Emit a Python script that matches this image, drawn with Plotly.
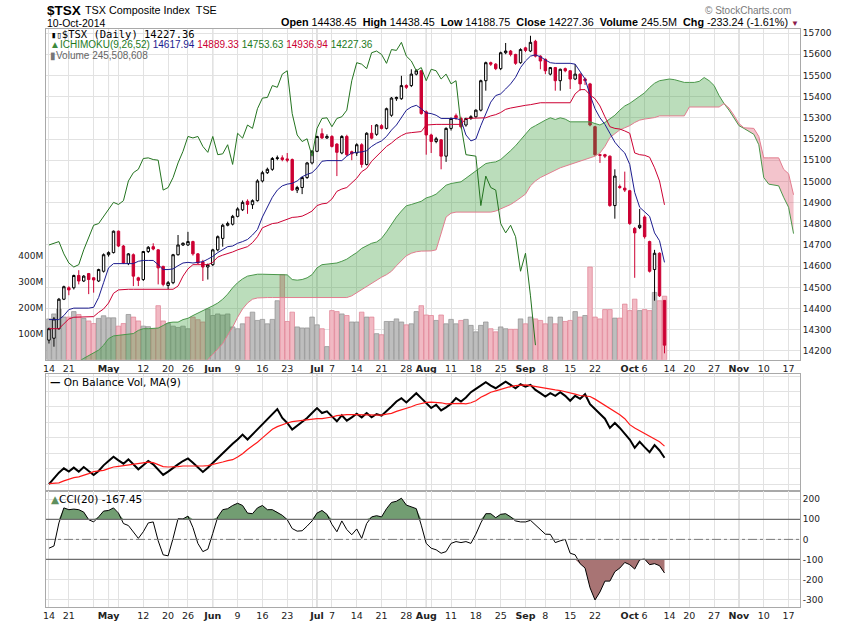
import numpy as np
import pandas as pd
import plotly.graph_objects as go

# trading days (TSX holidays removed), running past the last bar for the cloud projection
holidays = ["2014-04-18", "2014-05-19", "2014-07-01", "2014-08-04", "2014-09-01", "2014-10-13"]
dates = [d.strftime("%Y-%m-%d") for d in pd.bdate_range("2014-04-14", "2014-11-21")
         if d.strftime("%Y-%m-%d") not in holidays]

opens = [14251, 14260, 14305, 14444, 14498, 14498, 14556, 14530, 14565, 14545,
         14530, 14576, 14654, 14664, 14765, 14695, 14612, 14654, 14545, 14537,
         14669, 14692, 14677, 14599, 14509, 14522, 14654, 14700, 14700, 14716,
         14658, 14620, 14596, 14607, 14677, 14731, 14793, 14798, 14835, 14866,
         14906, 14890, 14909, 15002, 15041, 15057, 15108, 15111, 15106, 15103,
         14959, 14971, 15018, 15087, 15142, 15225, 15205, 15212, 15176, 15134,
         15212, 15140, 15134, 15173, 15080, 15227, 15222, 15263, 15250, 15312,
         15390, 15390, 15452, 15452, 15506, 15522, 15328, 15219, 15188, 15196,
         15119, 15250, 15310, 15297, 15266, 15297, 15305, 15336, 15475, 15560,
         15553, 15532, 15607, 15615, 15599, 15560, 15630, 15615, 15661, 15591,
         15576, 15506, 15537, 15475, 15532, 15522, 15483, 15506, 15483, 15460,
         15258, 15126, 15126, 15119, 14886, 14976, 14968, 14956, 14778, 14782,
         14832, 14716, 14584, 14661, 14438.45]
highs = [14310, 14360, 14450, 14508, 14505, 14560, 14581, 14558, 14568, 14548,
         14588, 14660, 14670, 14768, 14768, 14700, 14662, 14660, 14550, 14672,
         14695, 14708, 14680, 14602, 14530, 14658, 14747, 14712, 14762, 14720,
         14662, 14630, 14612, 14682, 14745, 14800, 14810, 14842, 14878, 14910,
         14915, 14915, 15010, 15050, 15065, 15115, 15122, 15123, 15134, 15108,
         14979, 15022, 15092, 15148, 15215, 15250, 15222, 15218, 15180, 15218,
         15220, 15145, 15180, 15180, 15232, 15266, 15270, 15270, 15348, 15398,
         15400, 15498, 15458, 15529, 15529, 15525, 15335, 15225, 15210, 15200,
         15255, 15302, 15320, 15305, 15300, 15312, 15340, 15480, 15565, 15565,
         15558, 15612, 15653, 15620, 15602, 15628, 15635, 15687, 15668, 15595,
         15580, 15540, 15540, 15532, 15537, 15525, 15553, 15510, 15490, 15465,
         15262, 15130, 15130, 15122, 15057, 14985, 15046, 14960, 14785, 14870,
         14840, 14720, 14677, 14665, 14438.45]
lows = [14235, 14220, 14300, 14440, 14463, 14490, 14514, 14525, 14468, 14475,
        14525, 14570, 14645, 14660, 14690, 14610, 14605, 14506, 14506, 14530,
        14662, 14675, 14514, 14505, 14491, 14515, 14650, 14695, 14695, 14650,
        14610, 14530, 14537, 14600, 14670, 14692, 14788, 14792, 14830, 14860,
        14847, 14870, 14905, 14995, 15035, 15050, 15100, 15095, 15090, 14955,
        14945, 14940, 15012, 15080, 15138, 15200, 15200, 15160, 15025, 15128,
        15120, 15100, 15120, 15065, 15075, 15198, 15215, 15245, 15245, 15305,
        15380, 15385, 15436, 15445, 15500, 15315, 15126, 15134, 15180, 15057,
        15092, 15240, 15290, 15250, 15258, 15290, 15300, 15330, 15428, 15545,
        15525, 15525, 15600, 15590, 15550, 15555, 15610, 15610, 15585, 15529,
        15506, 15500, 15428, 15428, 15515, 15436, 15478, 15428, 15455, 15260,
        15120, 15087, 15110, 14880, 14824, 14965, 14950, 14795, 14545, 14775,
        14730, 14570, 14437, 14455, 14188.75]
closes = [14305, 14351, 14444, 14503, 14488, 14556, 14530, 14553, 14537, 14535,
          14584, 14654, 14664, 14765, 14695, 14615, 14658, 14553, 14533, 14669,
          14689, 14681, 14592, 14514, 14522, 14654, 14700, 14708, 14716, 14658,
          14615, 14596, 14607, 14677, 14739, 14793, 14801, 14835, 14870, 14901,
          14891, 14909, 15002, 15041, 15057, 15108, 15111, 15103, 15100, 14959,
          14971, 15018, 15087, 15142, 15212, 15205, 15212, 15165, 15137, 15212,
          15126, 15130, 15173, 15080, 15227, 15204, 15266, 15250, 15343, 15393,
          15396, 15452, 15444, 15506, 15522, 15320, 15219, 15188, 15201, 15119,
          15250, 15297, 15300, 15258, 15297, 15305, 15336, 15475, 15560, 15553,
          15532, 15607, 15615, 15599, 15557, 15622, 15618, 15656, 15591, 15568,
          15522, 15537, 15475, 15529, 15522, 15483, 15506, 15460, 15475, 15266,
          15126, 15123, 15119, 14886, 15025, 14971, 14959, 14801, 14757, 14793,
          14739, 14576, 14661, 14460, 14227.36]
# volume, millions of shares
volume = [158, 177, 196, 165, 165, 186, 175, 160, 150, 140,
          160, 170, 162, 162, 130, 140, 175, 165, 150, 130,
          128, 120, 209, 150, 140, 130, 125, 130, 120, 165,
          155, 146, 196, 171, 177, 173, 177, 127, 120, 139,
          165, 184, 152, 156, 139, 156, 228, 329, 148, 184,
          127, 123, 123, 165, 135, 120, 51, 190, 186, 177,
          171, 146, 146, 184, 165, 165, 101, 97, 148, 148,
          158, 146, 135, 139, 186, 209, 173, 171, 152, 173,
          139, 156, 139, 152, 156, 133, 108, 133, 146, 120,
          108, 127, 120, 118, 118, 158, 139, 165, 158, 152,
          139, 165, 139, 165, 148, 152, 186, 165, 171, 358,
          165, 158, 194, 194, 161, 161, 215, 190, 234, 190,
          194, 190, 260, 228, 245.5]

tenkan = [14348, 14348, 14348, 14367, 14395, 14402, 14402, 14402, 14402, 14406,
          14452, 14522, 14592, 14612, 14612, 14612, 14612, 14612, 14623, 14627,
          14627, 14627, 14607, 14584, 14584, 14587, 14602, 14615, 14618, 14615,
          14618, 14621, 14633, 14646, 14664, 14680, 14692, 14695, 14708, 14716,
          14726, 14747, 14773, 14832, 14881, 14925, 14959, 14979, 14987, 14991,
          15002, 15022, 15033, 15041, 15064, 15095, 15098, 15098, 15098, 15098,
          15119, 15134, 15137, 15139, 15145, 15165, 15180, 15191, 15212, 15242,
          15266, 15300, 15336, 15351, 15359, 15343, 15323, 15320, 15312, 15297,
          15297, 15297, 15297, 15289, 15219, 15191, 15200, 15263, 15315, 15374,
          15405, 15413, 15436, 15460, 15491, 15537, 15568, 15591, 15597, 15588,
          15573, 15560, 15557, 15557, 15557, 15557, 15553, 15517, 15483, 15408,
          15343, 15300, 15269, 15227, 15185, 15157, 15134, 15080, 14948, 14878,
          14855, 14835, 14757, 14720, 14617.94]
kijun = [14305, 14305, 14305, 14328, 14351, 14359, 14359, 14359, 14359, 14362,
         14382, 14398, 14426, 14472, 14488, 14491, 14491, 14491, 14491, 14491,
         14491, 14491, 14491, 14491, 14491, 14491, 14506, 14553, 14587, 14607,
         14607, 14607, 14607, 14618, 14643, 14652, 14658, 14667, 14677, 14683,
         14692, 14711, 14739, 14781, 14792, 14801, 14804, 14813, 14824, 14830,
         14832, 14836, 14847, 14860, 14886, 14894, 14897, 14917, 14953, 14964,
         14971, 14995, 15015, 15046, 15061, 15095, 15119, 15142, 15165, 15181,
         15201, 15216, 15227, 15230, 15233, 15235, 15266, 15269, 15269, 15269,
         15269, 15269, 15269, 15269, 15297, 15297, 15297, 15297, 15300, 15309,
         15315, 15325, 15340, 15346, 15351, 15354, 15359, 15362, 15367, 15371,
         15371, 15371, 15371, 15371, 15371, 15371, 15413, 15433, 15433, 15408,
         15390, 15356, 15305, 15258, 15250, 15247, 15238, 15227, 15134, 15126,
         15123, 15114, 15064, 15002, 14889.33]
span_a = [14120, 14125, 14130, 14135, 14140, 14145, 14150, 14165, 14178, 14193,
          14204, 14227, 14258, 14271, 14274, 14274, 14277, 14282, 14297, 14305,
          14305, 14305, 14308, 14320, 14333, 14336, 14336, 14348, 14354, 14367,
          14378, 14390, 14401, 14413, 14426, 14444, 14468, 14498, 14522, 14540,
          14553, 14559, 14562, 14562, 14562, 14562, 14562, 14562, 14559, 14537,
          14534, 14537, 14545, 14560, 14592, 14607, 14610, 14612, 14615, 14623,
          14633, 14649, 14664, 14684, 14698, 14708, 14714, 14731, 14762, 14798,
          14832, 14860, 14885, 14891, 14898, 14906, 14922, 14929, 14940, 14959,
          14982, 14990, 14993, 14998, 15015, 15033, 15052, 15067, 15084, 15089,
          15092, 15103, 15123, 15145, 15168, 15196, 15227, 15250, 15263, 15278,
          15289, 15300, 15292, 15300, 15294, 15281, 15281, 15281, 15281, 15281,
          15273, 15266, 15278, 15297, 15312, 15336, 15356, 15368, 15384, 15398,
          15418, 15443, 15463, 15475, 15478, 15483, 15480, 15475, 15467, 15467,
          15467, 15472, 15490, 15475, 15452, 15405, 15367, 15336, 15297, 15263,
          15250, 15235, 15222, 15173, 15018, 14987, 14984, 14979, 14925, 14878,
          14753.63]
span_b = [14080, 14080, 14080, 14080, 14080, 14080, 14080, 14080, 14080, 14080,
          14080, 14090, 14090, 14090, 14090, 14090, 14090, 14090, 14090, 14090,
          14090, 14100, 14100, 14100, 14100, 14100, 14100, 14100, 14100, 14110,
          14120, 14135, 14158, 14184, 14209, 14235, 14274, 14312, 14359, 14398,
          14426, 14444, 14450, 14452, 14452, 14452, 14452, 14452, 14452, 14452,
          14452, 14452, 14452, 14452, 14452, 14452, 14452, 14452, 14452, 14452,
          14452, 14460, 14475, 14491, 14506, 14522, 14534, 14548, 14560, 14576,
          14602, 14627, 14649, 14661, 14668, 14671, 14672, 14672, 14677, 14754,
          14832, 14850, 14855, 14855, 14855, 14855, 14855, 14855, 14855, 14855,
          14860, 14870, 14878, 14891, 14906, 14925, 14940, 14979, 15002, 15018,
          15030, 15041, 15052, 15064, 15072, 15080, 15087, 15098, 15105, 15111,
          15119, 15134, 15165, 15207, 15227, 15243, 15253, 15263, 15278, 15289,
          15294, 15297, 15301, 15309, 15309, 15309, 15309, 15309, 15309, 15351,
          15351, 15351, 15351, 15351, 15351, 15351, 15367, 15346, 15312, 15273,
          15253, 15253, 15250, 15212, 15111, 15111, 15111, 15111, 15057, 15036,
          14936.94]

obv = [1000, 1180, 1350, 1480, 1380, 1500, 1380, 1520, 1400, 1280,
       1400, 1570, 1700, 1830, 1720, 1620, 1750, 1600, 1450, 1570,
       1700, 1600, 1450, 1280, 1380, 1500, 1600, 1700, 1780, 1650,
       1500, 1370, 1500, 1650, 1800, 1950, 2100, 2220, 2350, 2500,
       2350, 2500, 2680, 2820, 2950, 3100, 3270, 3000, 2850, 2650,
       2770, 2900, 3000, 3150, 3300, 3150, 3200, 3050, 2900, 3080,
       2920, 3020, 3130, 3020, 3150, 3020, 3120, 3070, 3200, 3350,
       3500, 3600, 3470, 3600, 3750, 3600, 3450, 3300, 3400, 3230,
       3320, 3430, 3600, 3500, 3620, 3780, 3880, 3980, 4080, 3980,
       3900, 4000, 4100, 4000, 3900, 4020, 3950, 4000, 3850, 3750,
       3650, 3750, 3670, 3780, 3670, 3520, 3670, 3580, 3720, 3420,
       3280, 3130, 2980, 2700, 2850, 2700, 2530, 2350, 2100, 2280,
       2120, 1970, 2180, 2020, 1800]
obv_ma = [1020, 1020, 1040, 1100, 1160, 1200, 1220, 1260, 1320, 1380,
          1400, 1420, 1470, 1520, 1540, 1560, 1580, 1610, 1630, 1640,
          1670, 1650, 1600, 1530, 1520, 1520, 1530, 1550, 1550, 1530,
          1540, 1550, 1560, 1590, 1630, 1670, 1710, 1740, 1820, 1920,
          2050, 2150, 2270, 2400, 2520, 2660, 2740, 2800, 2850, 2890,
          2910, 2930, 2950, 2970, 2980, 2980, 3000, 3030, 3070, 3090,
          3100, 3100, 3100, 3090, 3100, 3090, 3080, 3090, 3120, 3140,
          3200, 3240, 3280, 3340, 3400, 3440, 3470, 3480, 3480, 3460,
          3430, 3440, 3450, 3440, 3430, 3460, 3520, 3630, 3700, 3780,
          3820, 3870, 3920, 3950, 3980, 4000, 4000, 3980, 3950, 3920,
          3900, 3880, 3850, 3830, 3800, 3750, 3720, 3680, 3670, 3650,
          3570, 3480, 3380, 3300, 3200, 3100, 2980, 2800, 2700, 2620,
          2530, 2450, 2370, 2280, 2150]
cci = [-44, -33, 82, 157, 148, 151, 148, 136, 98, 87,
       112, 141, 144, 157, 131, 79, 69, 38, 5, 38,
       82, 87, -7, -77, -82, 5, 103, 102, 116, 59,
       -20, -61, -49, 30, 112, 148, 153, 169, 180, 169,
       131, 128, 157, 169, 148, 148, 136, 120, 98, 54,
       41, 43, 66, 92, 131, 144, 125, 75, 38, 92,
       49, 23, 52, 5, 79, 112, 118, 112, 153, 184,
       190, 205, 171, 161, 153, 71, -20, -44, -52, -69,
       -61, -20, -11, -16, -11, -20, 26, 82, 128, 128,
       108, 125, 128, 112, 92, 87, 87, 95, 71, 49,
       26, 25, -16, -7, 0, -69, -77, -121, -143, -241,
       -302, -262, -208, -208, -161, -143, -115, -126, -148, -102,
       -98, -126, -121, -131, -167.45]

tick_dates = ["2014-04-14", "2014-04-21", "2014-04-28", "2014-05-01", "2014-05-05", "2014-05-12",
              "2014-05-20", "2014-05-26", "2014-06-02", "2014-06-09", "2014-06-16", "2014-06-23",
              "2014-06-30", "2014-07-02", "2014-07-07", "2014-07-14", "2014-07-21", "2014-07-28",
              "2014-08-01", "2014-08-05", "2014-08-11", "2014-08-18", "2014-08-25", "2014-09-02",
              "2014-09-08", "2014-09-15", "2014-09-22", "2014-09-29", "2014-10-01", "2014-10-06",
              "2014-10-14", "2014-10-20", "2014-10-27", "2014-11-03", "2014-11-10", "2014-11-17"]
tick_text = ["14", "21", "", "<b>May</b>", "", "12", "20", "26", "<b>Jun</b>", "9", "16", "23",
             "", "<b>Jul</b>", "7", "14", "21", "28", "<b>Aug</b>", "", "11", "18", "25", "<b>Sep</b>",
             "8", "15", "22", "", "<b>Oct</b>", "6", "14", "20", "27", "<b>Nov</b>", "10", "17"]
month_dates = ["2014-05-01", "2014-06-02", "2014-07-02", "2014-08-01", "2014-09-02", "2014-10-01", "2014-11-03"]

n = len(closes)
lag = 26
RED = "#cc0033"
NAVY = "#1c1c8f"
FONT = "DejaVu Sans"
ARIAL = "Liberation Sans"
GRID = "#e2e2e2"
BORDER = "#a9a9a9"

fig = go.Figure()

# volume on the base axis, so everything priced sits above it
down = [i > 0 and closes[i] < closes[i - 1] for i in range(n)]
fig.add_trace(go.Bar(
    x=dates[:n], y=volume, xaxis="x", yaxis="y",
    marker=dict(color=["#f1b9c3" if d else "#bebebe" for d in down],
                line=dict(color=["#e07f92" if d else "#8f8f8f" for d in down], width=0.7)),
    hoverinfo="skip", showlegend=False))

# ichimoku cloud
cx = dates[:len(span_a)]
a = np.array(span_a)
b = np.array(span_b)
top = np.maximum(a, b)
common = dict(x=cx, mode="lines", xaxis="x", yaxis="y2", hoverinfo="skip", showlegend=False)
fig.add_trace(go.Scatter(y=b, line=dict(width=0), **common))
fig.add_trace(go.Scatter(y=top, line=dict(width=0), fill="tonexty", fillcolor="rgba(55,155,55,0.34)", **common))
fig.add_trace(go.Scatter(y=a, line=dict(width=0), **common))
fig.add_trace(go.Scatter(y=top, line=dict(width=0), fill="tonexty", fillcolor="rgba(215,60,85,0.30)", **common))
fig.add_trace(go.Scatter(y=a, line=dict(color="#4a974a", width=1), **common))
fig.add_trace(go.Scatter(y=b, line=dict(color="#e27d8f", width=1), **common))

fig.add_trace(go.Scatter(x=dates[:n], y=tenkan, mode="lines", line=dict(color=NAVY, width=1),
                         xaxis="x", yaxis="y2", hoverinfo="skip", showlegend=False))
fig.add_trace(go.Scatter(x=dates[:n], y=kijun, mode="lines", line=dict(color=RED, width=1),
                         xaxis="x", yaxis="y2", hoverinfo="skip", showlegend=False))
# lagging span: close plotted 26 sessions back
fig.add_trace(go.Scatter(x=dates[:n - lag], y=closes[lag:], mode="lines", line=dict(color="#23731f", width=1),
                         xaxis="x", yaxis="y2", hoverinfo="skip", showlegend=False))

fig.add_trace(go.Candlestick(
    x=dates[:n], open=opens, high=highs, low=lows, close=closes, xaxis="x", yaxis="y2",
    increasing=dict(line=dict(color="black", width=1), fillcolor="white"),
    decreasing=dict(line=dict(color=RED, width=1), fillcolor=RED),
    whiskerwidth=0, hoverinfo="skip", showlegend=False))

# on balance volume
fig.add_trace(go.Scatter(x=dates[:n], y=obv, mode="lines", line=dict(color="black", width=2),
                         xaxis="x2", yaxis="y3", hoverinfo="skip", showlegend=False))
fig.add_trace(go.Scatter(x=dates[:n], y=obv_ma, mode="lines", line=dict(color="#ff1a1a", width=1.2),
                         xaxis="x2", yaxis="y3", hoverinfo="skip", showlegend=False))

# CCI with shaded extremes
c = np.array(cci, dtype=float)
cc = dict(x=dates[:n], mode="lines", xaxis="x3", yaxis="y4", hoverinfo="skip", showlegend=False)
fig.add_trace(go.Scatter(y=[100] * n, line=dict(width=0), **cc))
fig.add_trace(go.Scatter(y=np.maximum(c, 100), line=dict(width=0), fill="tonexty", fillcolor="#729d72", **cc))
fig.add_trace(go.Scatter(y=[-100] * n, line=dict(width=0), **cc))
fig.add_trace(go.Scatter(y=np.minimum(c, -100), line=dict(width=0), fill="tonexty", fillcolor="#a87474", **cc))
fig.add_trace(go.Scatter(y=c, line=dict(color="black", width=1), **cc))

xbase = dict(type="category", categoryorder="array", categoryarray=dates, range=[-0.6, 151.3],
             tickmode="array", tickvals=tick_dates, ticktext=tick_text, showgrid=True, gridcolor=GRID,
             showline=True, linecolor=BORDER, mirror=True, ticks="", zeroline=False,
             tickfont=dict(family=FONT, size=9.5, color="#222"))
ybase = dict(showline=True, linecolor=BORDER, mirror=True, ticks="", zeroline=False,
             tickfont=dict(family=FONT, size=9, color="#222"))

fig.update_layout(
    width=850, height=633, autosize=False,
    margin=dict(l=46, r=50, t=29, b=17),
    paper_bgcolor="white", plot_bgcolor="white",
    showlegend=False, bargap=0.08, hovermode=False,
    xaxis=dict(xbase, anchor="y", rangeslider=dict(visible=False)),
    xaxis2=dict(xbase, anchor="y3", showticklabels=False),
    xaxis3=dict(xbase, anchor="y4"),
    yaxis=dict(ybase, domain=[0.4276, 1], range=[0, 1276], side="left",
               tickvals=[100, 200, 300, 400], ticktext=["100M", "200M", "300M", "400M"], showgrid=False),
    yaxis2=dict(ybase, overlaying="y", anchor="x", side="right", range=[14158, 15719],
                tick0=14200, dtick=100, tickformat="d", showgrid=True, gridcolor=GRID),
    yaxis3=dict(ybase, domain=[0.2010, 0.4037], anchor="x2", range=[800, 4340],
                tick0=1000, dtick=467, showticklabels=False, showgrid=True, gridcolor=GRID),
    yaxis4=dict(ybase, domain=[0, 0.2010], anchor="x3", side="right", range=[-337, 242],
                tickvals=[200, 100, 0, -100, -200, -300],
                ticktext=["200", "100", "0", "-100", "-200", "-300"], showgrid=True, gridcolor=GRID),
)

shapes = []
for xr, yr in (("x", "y domain"), ("x2", "y3 domain"), ("x3", "y4 domain")):
    for m in month_dates:
        shapes.append(dict(type="line", xref=xr, yref=yr, x0=m, x1=m, y0=0, y1=1,
                           line=dict(color="#bcbcbc", width=1), layer="below"))
for lvl in (100, -100):
    shapes.append(dict(type="line", xref="x3 domain", yref="y4", x0=0, x1=1, y0=lvl, y1=lvl,
                       line=dict(color="#6e6e6e", width=1.2)))
shapes.append(dict(type="line", xref="x3 domain", yref="y4", x0=0, x1=1, y0=0, y1=0,
                   line=dict(color="#7a7a7a", width=1, dash="dashdot")))
fig.update_layout(shapes=shapes)


def px(x):
    return (x - 46) / 754


def py(y):
    return (616 - y) / 587


def note(x, y, text, size=10, color="black", family=FONT, anchor="left"):
    fig.add_annotation(x=px(x), y=py(y), xref="paper", yref="paper", text=text, showarrow=False,
                       xanchor=anchor, yanchor="middle", font=dict(family=family, size=size, color=color))


note(45, 10, "<b>$TSX</b>", size=13.5, family=ARIAL)
note(83, 10, "TSX Composite Index  TSE", size=10.8, family=ARIAL)
note(45, 23, "10-Oct-2014", size=10.5, family=ARIAL)
note(801, 22, "<b>Open</b> 14438.45  <b>High</b> 14438.45  <b>Low</b> 14188.75  <b>Close</b> 14227.36  "
              "<b>Volume</b> 245.5M  <b>Chg</b> -233.24 (-1.61%) <span style='color:#8c1a4b;font-size:8px'>▼</span>",
     size=10.8, family=ARIAL, anchor="right")
note(793, 10, "© StockCharts.com", size=10, color="#7a7a7a", family=ARIAL, anchor="right")

note(49, 34, "<span style='font-size:9px'>▮▯</span>$TSX (Daily) 14227.36", size=10.5, family="DejaVu Sans Mono")
note(48, 45, "<span style='color:#3c8a3c'>▲</span><span style='color:#1d7a1d'>ICHIMOKU(9,26,52)</span> "
             "<span style='color:#1c1c8f'>14617.94</span> <span style='color:#cc0033'>14889.33</span> "
             "<span style='color:#1d7a1d'>14753.63</span> <span style='color:#cc0033'>14936.94</span> "
             "<span style='color:#1d7a1d'>14227.36</span>", size=10, family=ARIAL)
note(48, 56, "<span style='color:#777'>▮</span>Volume 245,508,608", size=10, color="#666666", family=ARIAL)
note(48, 388, "<b>—</b> On Balance Vol, MA(9)", size=10.5)
note(49, 506, "<span style='color:#5e8f5e'>▲</span>CCI(20) -167.45", size=10.5)

fig.write_html("out.html", config={"displayModeBar": False},
               post_script="document.body.style.margin='0';")
